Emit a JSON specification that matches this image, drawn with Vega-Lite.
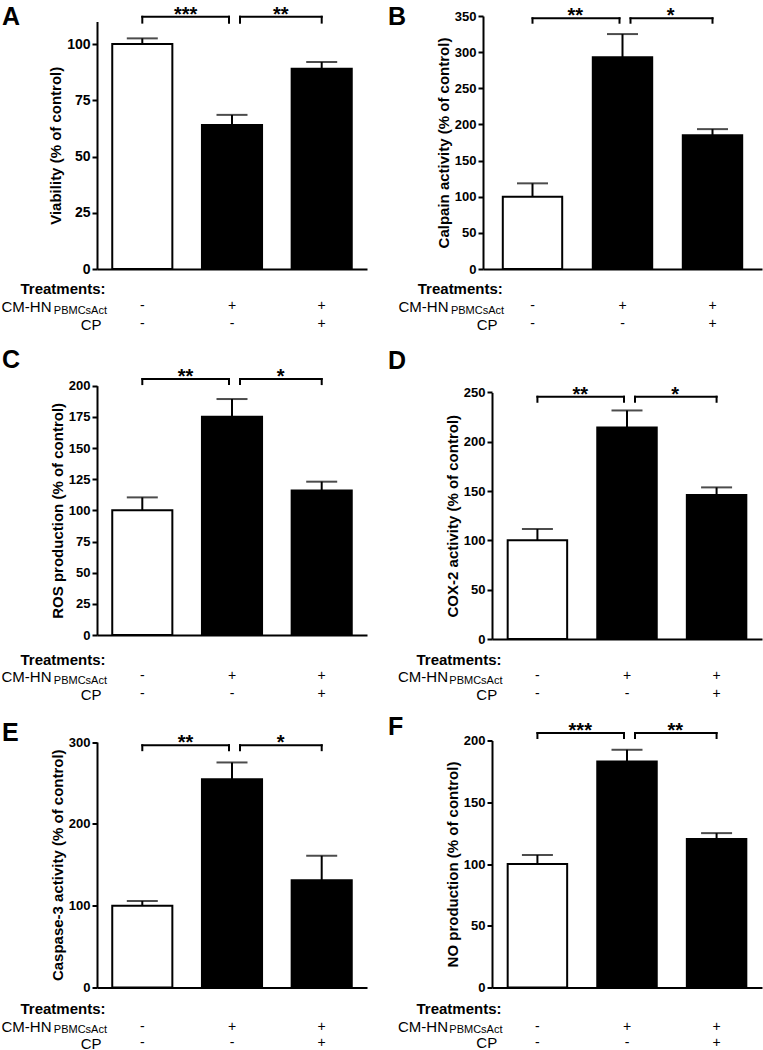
{
  "$schema": "https://vega.github.io/schema/vega-lite/v6.json",
  "background": "white",
  "padding": {"left": 1, "right": 2, "top": 4, "bottom": 0},
  "datasets": {
    "bars": [
      {"p": "A", "t": "t1", "v": 100, "hi": 102.5, "cm": "-", "cp": "-"},
      {"p": "A", "t": "t2", "v": 64, "hi": 68.5, "cm": "+", "cp": "-"},
      {"p": "A", "t": "t3", "v": 89, "hi": 92, "cm": "+", "cp": "+"},
      {"p": "B", "t": "t1", "v": 100, "hi": 118.5, "cm": "-", "cp": "-"},
      {"p": "B", "t": "t2", "v": 293, "hi": 325, "cm": "+", "cp": "-"},
      {"p": "B", "t": "t3", "v": 185, "hi": 193.5, "cm": "+", "cp": "+"},
      {"p": "C", "t": "t1", "v": 100, "hi": 110.4, "cm": "-", "cp": "-"},
      {"p": "C", "t": "t2", "v": 175, "hi": 189.3, "cm": "+", "cp": "-"},
      {"p": "C", "t": "t3", "v": 116, "hi": 123, "cm": "+", "cp": "+"},
      {"p": "D", "t": "t1", "v": 100, "hi": 111.5, "cm": "-", "cp": "-"},
      {"p": "D", "t": "t2", "v": 214.5, "hi": 231.7, "cm": "+", "cp": "-"},
      {"p": "D", "t": "t3", "v": 146, "hi": 153.7, "cm": "+", "cp": "+"},
      {"p": "E", "t": "t1", "v": 100, "hi": 105.7, "cm": "-", "cp": "-"},
      {"p": "E", "t": "t2", "v": 254.5, "hi": 275, "cm": "+", "cp": "-"},
      {"p": "E", "t": "t3", "v": 131, "hi": 161, "cm": "+", "cp": "+"},
      {"p": "F", "t": "t1", "v": 100, "hi": 107.3, "cm": "-", "cp": "-"},
      {"p": "F", "t": "t2", "v": 183, "hi": 192.5, "cm": "+", "cp": "-"},
      {"p": "F", "t": "t3", "v": 120.3, "hi": 125, "cm": "+", "cp": "+"}
    ],
    "br": [
      {"p": "A", "side": "L", "from": "t1", "to": "t2", "yb": 112.1, "yt": 109.5, "s": "***"},
      {"p": "A", "side": "R", "from": "t2", "to": "t3", "yb": 112.1, "yt": 109.5, "s": "**"},
      {"p": "B", "side": "L", "from": "t1", "to": "t2", "yb": 346.8, "yt": 340.7, "s": "**"},
      {"p": "B", "side": "R", "from": "t2", "to": "t3", "yb": 346.8, "yt": 340.7, "s": "*"},
      {"p": "C", "side": "L", "from": "t1", "to": "t2", "yb": 205.3, "yt": 201.3, "s": "**"},
      {"p": "C", "side": "R", "from": "t2", "to": "t3", "yb": 205.3, "yt": 201.3, "s": "*"},
      {"p": "D", "side": "L", "from": "t1", "to": "t2", "yb": 245.6, "yt": 240.5, "s": "**"},
      {"p": "D", "side": "R", "from": "t2", "to": "t3", "yb": 245.6, "yt": 240.5, "s": "*"},
      {"p": "E", "side": "L", "from": "t1", "to": "t2", "yb": 296, "yt": 290, "s": "**"},
      {"p": "E", "side": "R", "from": "t2", "to": "t3", "yb": 296, "yt": 290, "s": "*"},
      {"p": "F", "side": "L", "from": "t1", "to": "t2", "yb": 206, "yt": 202, "s": "***"},
      {"p": "F", "side": "R", "from": "t2", "to": "t3", "yb": 206, "yt": 202, "s": "**"}
    ]
  },
  "spacing": 16,
  "vconcat": [
    {
      "spacing": 21,
      "hconcat": [
        {
          "title": {"text": "A", "dx": -95, "dy": 29},
          "width": 270, "height": 253,
          "resolve": {"axis": {"x": "independent"}},
          "layer": [
            {"data": {"name": "bars"}, "transform": [{"filter": "datum.p == 'A'"}],
             "mark": {"type": "bar", "stroke": "black", "strokeWidth": 2},
             "encoding": {
               "x": {"field": "t", "type": "nominal", "scale": {"paddingInner": 0.33, "paddingOuter": 0.17},
                     "axis": {"orient": "bottom", "domain": true, "title": "Treatments:", "titleFontWeight": "bold", "titleX": 8, "titleY": 19.5}},
               "y": {"field": "v", "type": "quantitative", "scale": {"domain": [0, 110], "range": [253, 5.5], "nice": false},
                     "axis": {"orient": "left", "title": "Viability (% of control)", "values": [0, 25, 50, 75, 100], "tickCount": 20, "labelFontSize": 14}},
               "fill": {"field": "t", "type": "nominal", "scale": {"domain": ["t1", "t2", "t3"], "range": ["white", "black", "black"]}, "legend": null}
             }},
            {"data": {"name": "bars"}, "transform": [{"filter": "datum.p == 'A'"}],
             "mark": {"type": "rule", "color": "black", "strokeWidth": 2},
             "encoding": {
               "x": {"field": "t", "type": "nominal", "axis": {"orient": "bottom", "title": "CM-HN", "titleX": -46, "titleY": 37}},
               "y": {"field": "v", "type": "quantitative"},
               "y2": {"field": "hi"}
             }},
            {"data": {"name": "bars"}, "transform": [{"filter": "datum.p == 'A'"}],
             "mark": {"type": "tick", "orient": "horizontal", "color": "black", "size": 31, "thickness": 2},
             "encoding": {
               "x": {"field": "t", "type": "nominal", "axis": {"orient": "bottom", "title": "PBMCsAct", "titleFontSize": 11, "titleX": 9.5, "titleY": 41.5}},
               "y": {"field": "hi", "type": "quantitative"}
             }},
            {"data": {"name": "bars"}, "transform": [{"filter": "datum.p == 'A'"}],
             "mark": {"type": "text", "fontSize": 14, "baseline": "middle", "dy": 37},
             "encoding": {
               "x": {"field": "t", "type": "nominal", "axis": {"orient": "bottom", "title": "CP", "titleX": 4, "titleY": 55}},
               "y": {"datum": 0},
               "text": {"field": "cm"}
             }},
            {"data": {"name": "bars"}, "transform": [{"filter": "datum.p == 'A'"}],
             "mark": {"type": "text", "fontSize": 14, "baseline": "middle", "dy": 55},
             "encoding": {
               "x": {"field": "t", "type": "nominal", "axis": null},
               "y": {"datum": 0},
               "text": {"field": "cp"}
             }},
            {"data": {"name": "br"}, "transform": [{"filter": "datum.p == 'A' && datum.side == 'L'"}],
             "mark": {"type": "rule", "color": "black", "strokeWidth": 2, "strokeCap": "square", "x2Offset": -3},
             "encoding": {"x": {"field": "from", "type": "nominal", "axis": null}, "x2": {"field": "to"}, "y": {"field": "yb", "type": "quantitative"}}},
            {"data": {"name": "br"}, "transform": [{"filter": "datum.p == 'A' && datum.side == 'R'"}],
             "mark": {"type": "rule", "color": "black", "strokeWidth": 2, "strokeCap": "square", "xOffset": 8},
             "encoding": {"x": {"field": "from", "type": "nominal", "axis": null}, "x2": {"field": "to"}, "y": {"field": "yb", "type": "quantitative"}}},
            {"data": {"name": "br"}, "transform": [{"filter": "datum.p == 'A' && datum.side == 'L'"}],
             "mark": {"type": "rule", "color": "black", "strokeWidth": 2, "strokeCap": "square"},
             "encoding": {"x": {"field": "from", "type": "nominal", "axis": null}, "y": {"field": "yb", "type": "quantitative"}, "y2": {"field": "yt"}}},
            {"data": {"name": "br"}, "transform": [{"filter": "datum.p == 'A' && datum.side == 'L'"}],
             "mark": {"type": "rule", "color": "black", "strokeWidth": 2, "strokeCap": "square", "xOffset": -3},
             "encoding": {"x": {"field": "to", "type": "nominal", "axis": null}, "y": {"field": "yb", "type": "quantitative"}, "y2": {"field": "yt"}}},
            {"data": {"name": "br"}, "transform": [{"filter": "datum.p == 'A' && datum.side == 'R'"}],
             "mark": {"type": "rule", "color": "black", "strokeWidth": 2, "strokeCap": "square", "xOffset": 8},
             "encoding": {"x": {"field": "from", "type": "nominal", "axis": null}, "y": {"field": "yb", "type": "quantitative"}, "y2": {"field": "yt"}}},
            {"data": {"name": "br"}, "transform": [{"filter": "datum.p == 'A' && datum.side == 'R'"}],
             "mark": {"type": "rule", "color": "black", "strokeWidth": 2, "strokeCap": "square"},
             "encoding": {"x": {"field": "to", "type": "nominal", "axis": null}, "y": {"field": "yb", "type": "quantitative"}, "y2": {"field": "yt"}}},
            {"data": {"name": "br"}, "transform": [{"filter": "datum.p == 'A' && datum.side == 'L'"}],
             "mark": {"type": "text", "fontSize": 20, "fontWeight": "bold", "baseline": "alphabetic", "dy": 4},
             "encoding": {"x": {"field": "from", "type": "nominal", "bandPosition": 1.22, "axis": null}, "y": {"field": "yb", "type": "quantitative"}, "text": {"field": "s"}}},
            {"data": {"name": "br"}, "transform": [{"filter": "datum.p == 'A' && datum.side == 'R'"}],
             "mark": {"type": "text", "fontSize": 20, "fontWeight": "bold", "baseline": "alphabetic", "dy": 4},
             "encoding": {"x": {"field": "from", "type": "nominal", "bandPosition": 1.31, "axis": null}, "y": {"field": "yb", "type": "quantitative"}, "text": {"field": "s"}}}
          ]
        },
        {
          "title": {"text": "B", "dx": -95, "dy": 28},
          "width": 279, "height": 253,
          "resolve": {"axis": {"x": "independent"}},
          "layer": [
            {"data": {"name": "bars"}, "transform": [{"filter": "datum.p == 'B'"}],
             "mark": {"type": "bar", "stroke": "black", "strokeWidth": 2},
             "encoding": {
               "x": {"field": "t", "type": "nominal", "scale": {"paddingInner": 0.34, "paddingOuter": 0.22},
                     "axis": {"orient": "bottom", "domain": true, "title": "Treatments:", "titleFontWeight": "bold", "titleX": 19.3, "titleY": 19.5}},
               "y": {"field": "v", "type": "quantitative", "scale": {"domain": [0, 350], "range": [253, 0], "nice": false},
                     "axis": {"orient": "left", "title": "Calpain activity (% of control)", "values": [0, 50, 100, 150, 200, 250, 300, 350], "tickCount": 20}},
               "fill": {"field": "t", "type": "nominal", "scale": {"domain": ["t1", "t2", "t3"], "range": ["white", "black", "black"]}, "legend": null}
             }},
            {"data": {"name": "bars"}, "transform": [{"filter": "datum.p == 'B'"}],
             "mark": {"type": "rule", "color": "black", "strokeWidth": 2},
             "encoding": {
               "x": {"field": "t", "type": "nominal", "axis": {"orient": "bottom", "title": "CM-HN", "titleX": -35, "titleY": 37}},
               "y": {"field": "v", "type": "quantitative"},
               "y2": {"field": "hi"}
             }},
            {"data": {"name": "bars"}, "transform": [{"filter": "datum.p == 'B'"}],
             "mark": {"type": "tick", "orient": "horizontal", "color": "black", "size": 31, "thickness": 2},
             "encoding": {
               "x": {"field": "t", "type": "nominal", "axis": {"orient": "bottom", "title": "PBMCsAct", "titleFontSize": 11, "titleX": 20.6, "titleY": 41.5}},
               "y": {"field": "hi", "type": "quantitative"}
             }},
            {"data": {"name": "bars"}, "transform": [{"filter": "datum.p == 'B'"}],
             "mark": {"type": "text", "fontSize": 14, "baseline": "middle", "dy": 37},
             "encoding": {
               "x": {"field": "t", "type": "nominal", "axis": {"orient": "bottom", "title": "CP", "titleX": 14, "titleY": 55}},
               "y": {"datum": 0},
               "text": {"field": "cm"}
             }},
            {"data": {"name": "bars"}, "transform": [{"filter": "datum.p == 'B'"}],
             "mark": {"type": "text", "fontSize": 14, "baseline": "middle", "dy": 55},
             "encoding": {
               "x": {"field": "t", "type": "nominal", "axis": null},
               "y": {"datum": 0},
               "text": {"field": "cp"}
             }},
            {"data": {"name": "br"}, "transform": [{"filter": "datum.p == 'B' && datum.side == 'L'"}],
             "mark": {"type": "rule", "color": "black", "strokeWidth": 2, "strokeCap": "square", "x2Offset": -3},
             "encoding": {"x": {"field": "from", "type": "nominal", "axis": null}, "x2": {"field": "to"}, "y": {"field": "yb", "type": "quantitative"}}},
            {"data": {"name": "br"}, "transform": [{"filter": "datum.p == 'B' && datum.side == 'R'"}],
             "mark": {"type": "rule", "color": "black", "strokeWidth": 2, "strokeCap": "square", "xOffset": 8},
             "encoding": {"x": {"field": "from", "type": "nominal", "axis": null}, "x2": {"field": "to"}, "y": {"field": "yb", "type": "quantitative"}}},
            {"data": {"name": "br"}, "transform": [{"filter": "datum.p == 'B' && datum.side == 'L'"}],
             "mark": {"type": "rule", "color": "black", "strokeWidth": 2, "strokeCap": "square"},
             "encoding": {"x": {"field": "from", "type": "nominal", "axis": null}, "y": {"field": "yb", "type": "quantitative"}, "y2": {"field": "yt"}}},
            {"data": {"name": "br"}, "transform": [{"filter": "datum.p == 'B' && datum.side == 'L'"}],
             "mark": {"type": "rule", "color": "black", "strokeWidth": 2, "strokeCap": "square", "xOffset": -3},
             "encoding": {"x": {"field": "to", "type": "nominal", "axis": null}, "y": {"field": "yb", "type": "quantitative"}, "y2": {"field": "yt"}}},
            {"data": {"name": "br"}, "transform": [{"filter": "datum.p == 'B' && datum.side == 'R'"}],
             "mark": {"type": "rule", "color": "black", "strokeWidth": 2, "strokeCap": "square", "xOffset": 8},
             "encoding": {"x": {"field": "from", "type": "nominal", "axis": null}, "y": {"field": "yb", "type": "quantitative"}, "y2": {"field": "yt"}}},
            {"data": {"name": "br"}, "transform": [{"filter": "datum.p == 'B' && datum.side == 'R'"}],
             "mark": {"type": "rule", "color": "black", "strokeWidth": 2, "strokeCap": "square"},
             "encoding": {"x": {"field": "to", "type": "nominal", "axis": null}, "y": {"field": "yb", "type": "quantitative"}, "y2": {"field": "yt"}}},
            {"data": {"name": "br"}, "transform": [{"filter": "datum.p == 'B' && datum.side == 'L'"}],
             "mark": {"type": "text", "fontSize": 20, "fontWeight": "bold", "baseline": "alphabetic", "dy": 4},
             "encoding": {"x": {"field": "from", "type": "nominal", "bandPosition": 1.22, "axis": null}, "y": {"field": "yb", "type": "quantitative"}, "text": {"field": "s"}}},
            {"data": {"name": "br"}, "transform": [{"filter": "datum.p == 'B' && datum.side == 'R'"}],
             "mark": {"type": "text", "fontSize": 20, "fontWeight": "bold", "baseline": "alphabetic", "dy": 4},
             "encoding": {"x": {"field": "from", "type": "nominal", "bandPosition": 1.31, "axis": null}, "y": {"field": "yb", "type": "quantitative"}, "text": {"field": "s"}}}
          ]
        }
      ]
    },
    {
      "spacing": 12.5,
      "vconcat": [
        {
          "spacing": 21,
          "hconcat": [
            {
              "title": {"text": "C", "dx": -95, "dy": 10},
              "width": 270, "height": 255,
              "resolve": {"axis": {"x": "independent"}},
              "layer": [
                {"data": {"name": "bars"}, "transform": [{"filter": "datum.p == 'C'"}],
                 "mark": {"type": "bar", "stroke": "black", "strokeWidth": 2},
                 "encoding": {
                   "x": {"field": "t", "type": "nominal", "scale": {"paddingInner": 0.33, "paddingOuter": 0.17},
                         "axis": {"orient": "bottom", "domain": true, "offset": -4, "title": "Treatments:", "titleFontWeight": "bold", "titleX": 8, "titleY": 24}},
                   "y": {"field": "v", "type": "quantitative", "scale": {"domain": [0, 200], "range": [251, 1.7], "nice": false},
                         "axis": {"orient": "left", "title": "ROS production (% of control)", "values": [0, 25, 50, 75, 100, 125, 150, 175, 200], "tickCount": 20}},
                   "fill": {"field": "t", "type": "nominal", "scale": {"domain": ["t1", "t2", "t3"], "range": ["white", "black", "black"]}, "legend": null}
                 }},
                {"data": {"name": "bars"}, "transform": [{"filter": "datum.p == 'C'"}],
                 "mark": {"type": "rule", "color": "black", "strokeWidth": 2},
                 "encoding": {
                   "x": {"field": "t", "type": "nominal", "axis": {"orient": "bottom", "title": "CM-HN", "titleX": -46, "titleY": 37}},
                   "y": {"field": "v", "type": "quantitative"},
                   "y2": {"field": "hi"}
                 }},
                {"data": {"name": "bars"}, "transform": [{"filter": "datum.p == 'C'"}],
                 "mark": {"type": "tick", "orient": "horizontal", "color": "black", "size": 31, "thickness": 2},
                 "encoding": {
                   "x": {"field": "t", "type": "nominal", "axis": {"orient": "bottom", "title": "PBMCsAct", "titleFontSize": 11, "titleX": 9.5, "titleY": 41}},
                   "y": {"field": "hi", "type": "quantitative"}
                 }},
                {"data": {"name": "bars"}, "transform": [{"filter": "datum.p == 'C'"}],
                 "mark": {"type": "text", "fontSize": 14, "baseline": "middle", "dy": 41},
                 "encoding": {
                   "x": {"field": "t", "type": "nominal", "axis": {"orient": "bottom", "title": "CP", "titleX": 4, "titleY": 55}},
                   "y": {"datum": 0},
                   "text": {"field": "cm"}
                 }},
                {"data": {"name": "bars"}, "transform": [{"filter": "datum.p == 'C'"}],
                 "mark": {"type": "text", "fontSize": 14, "baseline": "middle", "dy": 59},
                 "encoding": {
                   "x": {"field": "t", "type": "nominal", "axis": null},
                   "y": {"datum": 0},
                   "text": {"field": "cp"}
                 }},
                {"data": {"name": "br"}, "transform": [{"filter": "datum.p == 'C' && datum.side == 'L'"}],
                 "mark": {"type": "rule", "color": "black", "strokeWidth": 2, "strokeCap": "square", "x2Offset": -3},
                 "encoding": {"x": {"field": "from", "type": "nominal", "axis": null}, "x2": {"field": "to"}, "y": {"field": "yb", "type": "quantitative"}}},
                {"data": {"name": "br"}, "transform": [{"filter": "datum.p == 'C' && datum.side == 'R'"}],
                 "mark": {"type": "rule", "color": "black", "strokeWidth": 2, "strokeCap": "square", "xOffset": 8},
                 "encoding": {"x": {"field": "from", "type": "nominal", "axis": null}, "x2": {"field": "to"}, "y": {"field": "yb", "type": "quantitative"}}},
                {"data": {"name": "br"}, "transform": [{"filter": "datum.p == 'C' && datum.side == 'L'"}],
                 "mark": {"type": "rule", "color": "black", "strokeWidth": 2, "strokeCap": "square"},
                 "encoding": {"x": {"field": "from", "type": "nominal", "axis": null}, "y": {"field": "yb", "type": "quantitative"}, "y2": {"field": "yt"}}},
                {"data": {"name": "br"}, "transform": [{"filter": "datum.p == 'C' && datum.side == 'L'"}],
                 "mark": {"type": "rule", "color": "black", "strokeWidth": 2, "strokeCap": "square", "xOffset": -3},
                 "encoding": {"x": {"field": "to", "type": "nominal", "axis": null}, "y": {"field": "yb", "type": "quantitative"}, "y2": {"field": "yt"}}},
                {"data": {"name": "br"}, "transform": [{"filter": "datum.p == 'C' && datum.side == 'R'"}],
                 "mark": {"type": "rule", "color": "black", "strokeWidth": 2, "strokeCap": "square", "xOffset": 8},
                 "encoding": {"x": {"field": "from", "type": "nominal", "axis": null}, "y": {"field": "yb", "type": "quantitative"}, "y2": {"field": "yt"}}},
                {"data": {"name": "br"}, "transform": [{"filter": "datum.p == 'C' && datum.side == 'R'"}],
                 "mark": {"type": "rule", "color": "black", "strokeWidth": 2, "strokeCap": "square"},
                 "encoding": {"x": {"field": "to", "type": "nominal", "axis": null}, "y": {"field": "yb", "type": "quantitative"}, "y2": {"field": "yt"}}},
                {"data": {"name": "br"}, "transform": [{"filter": "datum.p == 'C' && datum.side == 'L'"}],
                 "mark": {"type": "text", "fontSize": 20, "fontWeight": "bold", "baseline": "alphabetic", "dy": 4},
                 "encoding": {"x": {"field": "from", "type": "nominal", "bandPosition": 1.22, "axis": null}, "y": {"field": "yb", "type": "quantitative"}, "text": {"field": "s"}}},
                {"data": {"name": "br"}, "transform": [{"filter": "datum.p == 'C' && datum.side == 'R'"}],
                 "mark": {"type": "text", "fontSize": 20, "fontWeight": "bold", "baseline": "alphabetic", "dy": 4},
                 "encoding": {"x": {"field": "from", "type": "nominal", "bandPosition": 1.31, "axis": null}, "y": {"field": "yb", "type": "quantitative"}, "text": {"field": "s"}}}
              ]
            },
            {
              "title": {"text": "D", "dx": -104, "dy": -6},
              "width": 270, "height": 255,
              "resolve": {"axis": {"x": "independent"}},
              "layer": [
                {"data": {"name": "bars"}, "transform": [{"filter": "datum.p == 'D'"}],
                 "mark": {"type": "bar", "stroke": "black", "strokeWidth": 2},
                 "encoding": {
                   "x": {"field": "t", "type": "nominal", "scale": {"paddingInner": 0.336, "paddingOuter": 0.175},
                         "axis": {"orient": "bottom", "domain": true, "title": "Treatments:", "titleFontWeight": "bold", "titleX": 9, "titleY": 20}},
                   "y": {"field": "v", "type": "quantitative", "scale": {"domain": [0, 250], "range": [255, 8.4], "nice": false},
                         "axis": {"orient": "left", "title": "COX-2 activity (% of control)", "values": [0, 50, 100, 150, 200, 250], "tickCount": 20}},
                   "fill": {"field": "t", "type": "nominal", "scale": {"domain": ["t1", "t2", "t3"], "range": ["white", "black", "black"]}, "legend": null}
                 }},
                {"data": {"name": "bars"}, "transform": [{"filter": "datum.p == 'D'"}],
                 "mark": {"type": "rule", "color": "black", "strokeWidth": 2},
                 "encoding": {
                   "x": {"field": "t", "type": "nominal", "axis": {"orient": "bottom", "title": "CM-HN", "titleX": -44.5, "titleY": 37}},
                   "y": {"field": "v", "type": "quantitative"},
                   "y2": {"field": "hi"}
                 }},
                {"data": {"name": "bars"}, "transform": [{"filter": "datum.p == 'D'"}],
                 "mark": {"type": "tick", "orient": "horizontal", "color": "black", "size": 31, "thickness": 2},
                 "encoding": {
                   "x": {"field": "t", "type": "nominal", "axis": {"orient": "bottom", "title": "PBMCsAct", "titleFontSize": 11, "titleX": 10, "titleY": 41}},
                   "y": {"field": "hi", "type": "quantitative"}
                 }},
                {"data": {"name": "bars"}, "transform": [{"filter": "datum.p == 'D'"}],
                 "mark": {"type": "text", "fontSize": 14, "baseline": "middle", "dy": 37},
                 "encoding": {
                   "x": {"field": "t", "type": "nominal", "axis": {"orient": "bottom", "title": "CP", "titleX": 4.7, "titleY": 55}},
                   "y": {"datum": 0},
                   "text": {"field": "cm"}
                 }},
                {"data": {"name": "bars"}, "transform": [{"filter": "datum.p == 'D'"}],
                 "mark": {"type": "text", "fontSize": 14, "baseline": "middle", "dy": 55},
                 "encoding": {
                   "x": {"field": "t", "type": "nominal", "axis": null},
                   "y": {"datum": 0},
                   "text": {"field": "cp"}
                 }},
                {"data": {"name": "br"}, "transform": [{"filter": "datum.p == 'D' && datum.side == 'L'"}],
                 "mark": {"type": "rule", "color": "black", "strokeWidth": 2, "strokeCap": "square", "x2Offset": -3},
                 "encoding": {"x": {"field": "from", "type": "nominal", "axis": null}, "x2": {"field": "to"}, "y": {"field": "yb", "type": "quantitative"}}},
                {"data": {"name": "br"}, "transform": [{"filter": "datum.p == 'D' && datum.side == 'R'"}],
                 "mark": {"type": "rule", "color": "black", "strokeWidth": 2, "strokeCap": "square", "xOffset": 8},
                 "encoding": {"x": {"field": "from", "type": "nominal", "axis": null}, "x2": {"field": "to"}, "y": {"field": "yb", "type": "quantitative"}}},
                {"data": {"name": "br"}, "transform": [{"filter": "datum.p == 'D' && datum.side == 'L'"}],
                 "mark": {"type": "rule", "color": "black", "strokeWidth": 2, "strokeCap": "square"},
                 "encoding": {"x": {"field": "from", "type": "nominal", "axis": null}, "y": {"field": "yb", "type": "quantitative"}, "y2": {"field": "yt"}}},
                {"data": {"name": "br"}, "transform": [{"filter": "datum.p == 'D' && datum.side == 'L'"}],
                 "mark": {"type": "rule", "color": "black", "strokeWidth": 2, "strokeCap": "square", "xOffset": -3},
                 "encoding": {"x": {"field": "to", "type": "nominal", "axis": null}, "y": {"field": "yb", "type": "quantitative"}, "y2": {"field": "yt"}}},
                {"data": {"name": "br"}, "transform": [{"filter": "datum.p == 'D' && datum.side == 'R'"}],
                 "mark": {"type": "rule", "color": "black", "strokeWidth": 2, "strokeCap": "square", "xOffset": 8},
                 "encoding": {"x": {"field": "from", "type": "nominal", "axis": null}, "y": {"field": "yb", "type": "quantitative"}, "y2": {"field": "yt"}}},
                {"data": {"name": "br"}, "transform": [{"filter": "datum.p == 'D' && datum.side == 'R'"}],
                 "mark": {"type": "rule", "color": "black", "strokeWidth": 2, "strokeCap": "square"},
                 "encoding": {"x": {"field": "to", "type": "nominal", "axis": null}, "y": {"field": "yb", "type": "quantitative"}, "y2": {"field": "yt"}}},
                {"data": {"name": "br"}, "transform": [{"filter": "datum.p == 'D' && datum.side == 'L'"}],
                 "mark": {"type": "text", "fontSize": 20, "fontWeight": "bold", "baseline": "alphabetic", "dy": 4},
                 "encoding": {"x": {"field": "from", "type": "nominal", "bandPosition": 1.22, "axis": null}, "y": {"field": "yb", "type": "quantitative"}, "text": {"field": "s"}}},
                {"data": {"name": "br"}, "transform": [{"filter": "datum.p == 'D' && datum.side == 'R'"}],
                 "mark": {"type": "text", "fontSize": 20, "fontWeight": "bold", "baseline": "alphabetic", "dy": 4},
                 "encoding": {"x": {"field": "from", "type": "nominal", "bandPosition": 1.31, "axis": null}, "y": {"field": "yb", "type": "quantitative"}, "text": {"field": "s"}}}
              ]
            }
          ]
        },
        {
          "spacing": 21,
          "hconcat": [
            {
              "title": {"text": "E", "dx": -95, "dy": 17},
              "width": 270, "height": 247,
              "resolve": {"axis": {"x": "independent"}},
              "layer": [
                {"data": {"name": "bars"}, "transform": [{"filter": "datum.p == 'E'"}],
                 "mark": {"type": "bar", "stroke": "black", "strokeWidth": 2},
                 "encoding": {
                   "x": {"field": "t", "type": "nominal", "scale": {"paddingInner": 0.33, "paddingOuter": 0.17},
                         "axis": {"orient": "bottom", "domain": true, "title": "Treatments:", "titleFontWeight": "bold", "titleX": 8, "titleY": 21}},
                   "y": {"field": "v", "type": "quantitative", "scale": {"domain": [0, 300], "range": [247, 1.5], "nice": false},
                         "axis": {"orient": "left", "title": "Caspase-3 activity (% of control)", "values": [0, 100, 200, 300], "tickCount": 20}},
                   "fill": {"field": "t", "type": "nominal", "scale": {"domain": ["t1", "t2", "t3"], "range": ["white", "black", "black"]}, "legend": null}
                 }},
                {"data": {"name": "bars"}, "transform": [{"filter": "datum.p == 'E'"}],
                 "mark": {"type": "rule", "color": "black", "strokeWidth": 2},
                 "encoding": {
                   "x": {"field": "t", "type": "nominal", "axis": {"orient": "bottom", "title": "CM-HN", "titleX": -46, "titleY": 39}},
                   "y": {"field": "v", "type": "quantitative"},
                   "y2": {"field": "hi"}
                 }},
                {"data": {"name": "bars"}, "transform": [{"filter": "datum.p == 'E'"}],
                 "mark": {"type": "tick", "orient": "horizontal", "color": "black", "size": 31, "thickness": 2},
                 "encoding": {
                   "x": {"field": "t", "type": "nominal", "axis": {"orient": "bottom", "title": "PBMCsAct", "titleFontSize": 11, "titleX": 9.5, "titleY": 42}},
                   "y": {"field": "hi", "type": "quantitative"}
                 }},
                {"data": {"name": "bars"}, "transform": [{"filter": "datum.p == 'E'"}],
                 "mark": {"type": "text", "fontSize": 14, "baseline": "middle", "dy": 39},
                 "encoding": {
                   "x": {"field": "t", "type": "nominal", "axis": {"orient": "bottom", "title": "CP", "titleX": 4, "titleY": 55.5}},
                   "y": {"datum": 0},
                   "text": {"field": "cm"}
                 }},
                {"data": {"name": "bars"}, "transform": [{"filter": "datum.p == 'E'"}],
                 "mark": {"type": "text", "fontSize": 14, "baseline": "middle", "dy": 55.5},
                 "encoding": {
                   "x": {"field": "t", "type": "nominal", "axis": null},
                   "y": {"datum": 0},
                   "text": {"field": "cp"}
                 }},
                {"data": {"name": "br"}, "transform": [{"filter": "datum.p == 'E' && datum.side == 'L'"}],
                 "mark": {"type": "rule", "color": "black", "strokeWidth": 2, "strokeCap": "square", "x2Offset": -3},
                 "encoding": {"x": {"field": "from", "type": "nominal", "axis": null}, "x2": {"field": "to"}, "y": {"field": "yb", "type": "quantitative"}}},
                {"data": {"name": "br"}, "transform": [{"filter": "datum.p == 'E' && datum.side == 'R'"}],
                 "mark": {"type": "rule", "color": "black", "strokeWidth": 2, "strokeCap": "square", "xOffset": 8},
                 "encoding": {"x": {"field": "from", "type": "nominal", "axis": null}, "x2": {"field": "to"}, "y": {"field": "yb", "type": "quantitative"}}},
                {"data": {"name": "br"}, "transform": [{"filter": "datum.p == 'E' && datum.side == 'L'"}],
                 "mark": {"type": "rule", "color": "black", "strokeWidth": 2, "strokeCap": "square"},
                 "encoding": {"x": {"field": "from", "type": "nominal", "axis": null}, "y": {"field": "yb", "type": "quantitative"}, "y2": {"field": "yt"}}},
                {"data": {"name": "br"}, "transform": [{"filter": "datum.p == 'E' && datum.side == 'L'"}],
                 "mark": {"type": "rule", "color": "black", "strokeWidth": 2, "strokeCap": "square", "xOffset": -3},
                 "encoding": {"x": {"field": "to", "type": "nominal", "axis": null}, "y": {"field": "yb", "type": "quantitative"}, "y2": {"field": "yt"}}},
                {"data": {"name": "br"}, "transform": [{"filter": "datum.p == 'E' && datum.side == 'R'"}],
                 "mark": {"type": "rule", "color": "black", "strokeWidth": 2, "strokeCap": "square", "xOffset": 8},
                 "encoding": {"x": {"field": "from", "type": "nominal", "axis": null}, "y": {"field": "yb", "type": "quantitative"}, "y2": {"field": "yt"}}},
                {"data": {"name": "br"}, "transform": [{"filter": "datum.p == 'E' && datum.side == 'R'"}],
                 "mark": {"type": "rule", "color": "black", "strokeWidth": 2, "strokeCap": "square"},
                 "encoding": {"x": {"field": "to", "type": "nominal", "axis": null}, "y": {"field": "yb", "type": "quantitative"}, "y2": {"field": "yt"}}},
                {"data": {"name": "br"}, "transform": [{"filter": "datum.p == 'E' && datum.side == 'L'"}],
                 "mark": {"type": "text", "fontSize": 20, "fontWeight": "bold", "baseline": "alphabetic", "dy": 4},
                 "encoding": {"x": {"field": "from", "type": "nominal", "bandPosition": 1.22, "axis": null}, "y": {"field": "yb", "type": "quantitative"}, "text": {"field": "s"}}},
                {"data": {"name": "br"}, "transform": [{"filter": "datum.p == 'E' && datum.side == 'R'"}],
                 "mark": {"type": "text", "fontSize": 20, "fontWeight": "bold", "baseline": "alphabetic", "dy": 4},
                 "encoding": {"x": {"field": "from", "type": "nominal", "bandPosition": 1.31, "axis": null}, "y": {"field": "yb", "type": "quantitative"}, "text": {"field": "s"}}}
              ]
            },
            {
              "title": {"text": "F", "dx": -104, "dy": 23},
              "width": 270, "height": 247,
              "resolve": {"axis": {"x": "independent"}},
              "layer": [
                {"data": {"name": "bars"}, "transform": [{"filter": "datum.p == 'F'"}],
                 "mark": {"type": "bar", "stroke": "black", "strokeWidth": 2},
                 "encoding": {
                   "x": {"field": "t", "type": "nominal", "scale": {"paddingInner": 0.336, "paddingOuter": 0.175},
                         "axis": {"orient": "bottom", "domain": true, "title": "Treatments:", "titleFontWeight": "bold", "titleX": 9, "titleY": 21}},
                   "y": {"field": "v", "type": "quantitative", "scale": {"domain": [0, 200], "range": [247, 0], "nice": false},
                         "axis": {"orient": "left", "title": "NO production (% of control)", "values": [0, 50, 100, 150, 200], "tickCount": 20}},
                   "fill": {"field": "t", "type": "nominal", "scale": {"domain": ["t1", "t2", "t3"], "range": ["white", "black", "black"]}, "legend": null}
                 }},
                {"data": {"name": "bars"}, "transform": [{"filter": "datum.p == 'F'"}],
                 "mark": {"type": "rule", "color": "black", "strokeWidth": 2},
                 "encoding": {
                   "x": {"field": "t", "type": "nominal", "axis": {"orient": "bottom", "title": "CM-HN", "titleX": -44.5, "titleY": 39}},
                   "y": {"field": "v", "type": "quantitative"},
                   "y2": {"field": "hi"}
                 }},
                {"data": {"name": "bars"}, "transform": [{"filter": "datum.p == 'F'"}],
                 "mark": {"type": "tick", "orient": "horizontal", "color": "black", "size": 31, "thickness": 2},
                 "encoding": {
                   "x": {"field": "t", "type": "nominal", "axis": {"orient": "bottom", "title": "PBMCsAct", "titleFontSize": 11, "titleX": 10, "titleY": 42}},
                   "y": {"field": "hi", "type": "quantitative"}
                 }},
                {"data": {"name": "bars"}, "transform": [{"filter": "datum.p == 'F'"}],
                 "mark": {"type": "text", "fontSize": 14, "baseline": "middle", "dy": 39},
                 "encoding": {
                   "x": {"field": "t", "type": "nominal", "axis": {"orient": "bottom", "title": "CP", "titleX": 4.7, "titleY": 55}},
                   "y": {"datum": 0},
                   "text": {"field": "cm"}
                 }},
                {"data": {"name": "bars"}, "transform": [{"filter": "datum.p == 'F'"}],
                 "mark": {"type": "text", "fontSize": 14, "baseline": "middle", "dy": 55},
                 "encoding": {
                   "x": {"field": "t", "type": "nominal", "axis": null},
                   "y": {"datum": 0},
                   "text": {"field": "cp"}
                 }},
                {"data": {"name": "br"}, "transform": [{"filter": "datum.p == 'F' && datum.side == 'L'"}],
                 "mark": {"type": "rule", "color": "black", "strokeWidth": 2, "strokeCap": "square", "x2Offset": -3},
                 "encoding": {"x": {"field": "from", "type": "nominal", "axis": null}, "x2": {"field": "to"}, "y": {"field": "yb", "type": "quantitative"}}},
                {"data": {"name": "br"}, "transform": [{"filter": "datum.p == 'F' && datum.side == 'R'"}],
                 "mark": {"type": "rule", "color": "black", "strokeWidth": 2, "strokeCap": "square", "xOffset": 8},
                 "encoding": {"x": {"field": "from", "type": "nominal", "axis": null}, "x2": {"field": "to"}, "y": {"field": "yb", "type": "quantitative"}}},
                {"data": {"name": "br"}, "transform": [{"filter": "datum.p == 'F' && datum.side == 'L'"}],
                 "mark": {"type": "rule", "color": "black", "strokeWidth": 2, "strokeCap": "square"},
                 "encoding": {"x": {"field": "from", "type": "nominal", "axis": null}, "y": {"field": "yb", "type": "quantitative"}, "y2": {"field": "yt"}}},
                {"data": {"name": "br"}, "transform": [{"filter": "datum.p == 'F' && datum.side == 'L'"}],
                 "mark": {"type": "rule", "color": "black", "strokeWidth": 2, "strokeCap": "square", "xOffset": -3},
                 "encoding": {"x": {"field": "to", "type": "nominal", "axis": null}, "y": {"field": "yb", "type": "quantitative"}, "y2": {"field": "yt"}}},
                {"data": {"name": "br"}, "transform": [{"filter": "datum.p == 'F' && datum.side == 'R'"}],
                 "mark": {"type": "rule", "color": "black", "strokeWidth": 2, "strokeCap": "square", "xOffset": 8},
                 "encoding": {"x": {"field": "from", "type": "nominal", "axis": null}, "y": {"field": "yb", "type": "quantitative"}, "y2": {"field": "yt"}}},
                {"data": {"name": "br"}, "transform": [{"filter": "datum.p == 'F' && datum.side == 'R'"}],
                 "mark": {"type": "rule", "color": "black", "strokeWidth": 2, "strokeCap": "square"},
                 "encoding": {"x": {"field": "to", "type": "nominal", "axis": null}, "y": {"field": "yb", "type": "quantitative"}, "y2": {"field": "yt"}}},
                {"data": {"name": "br"}, "transform": [{"filter": "datum.p == 'F' && datum.side == 'L'"}],
                 "mark": {"type": "text", "fontSize": 20, "fontWeight": "bold", "baseline": "alphabetic", "dy": 4},
                 "encoding": {"x": {"field": "from", "type": "nominal", "bandPosition": 1.22, "axis": null}, "y": {"field": "yb", "type": "quantitative"}, "text": {"field": "s"}}},
                {"data": {"name": "br"}, "transform": [{"filter": "datum.p == 'F' && datum.side == 'R'"}],
                 "mark": {"type": "text", "fontSize": 20, "fontWeight": "bold", "baseline": "alphabetic", "dy": 4},
                 "encoding": {"x": {"field": "from", "type": "nominal", "bandPosition": 1.31, "axis": null}, "y": {"field": "yb", "type": "quantitative"}, "text": {"field": "s"}}}
              ]
            }
          ]
        }
      ]
    }
  ],
  "config": {
    "font": "Liberation Sans",
    "view": {"stroke": null},
    "title": {"anchor": "start", "frame": "group", "fontSize": 25, "fontWeight": "bold", "color": "black", "font": "Liberation Sans"},
    "axis": {"grid": false, "domainColor": "black", "domainWidth": 2, "tickColor": "black", "tickWidth": 2, "tickSize": 5, "labelColor": "black", "titleColor": "black", "labelFont": "Liberation Sans", "titleFont": "Liberation Sans"},
    "axisY": {"labelFontSize": 13, "labelFontWeight": "bold", "labelPadding": 2, "labelOverlap": false, "tickCount": 20, "titleFontSize": 15, "titleFontWeight": "bold", "titlePadding": 3},
    "axisX": {"domain": false, "ticks": false, "labels": false, "titleFontSize": 15, "titleFontWeight": "normal", "titleAlign": "right", "titleBaseline": "middle"},
    "text": {"font": "Liberation Sans", "color": "black"}
  }
}
